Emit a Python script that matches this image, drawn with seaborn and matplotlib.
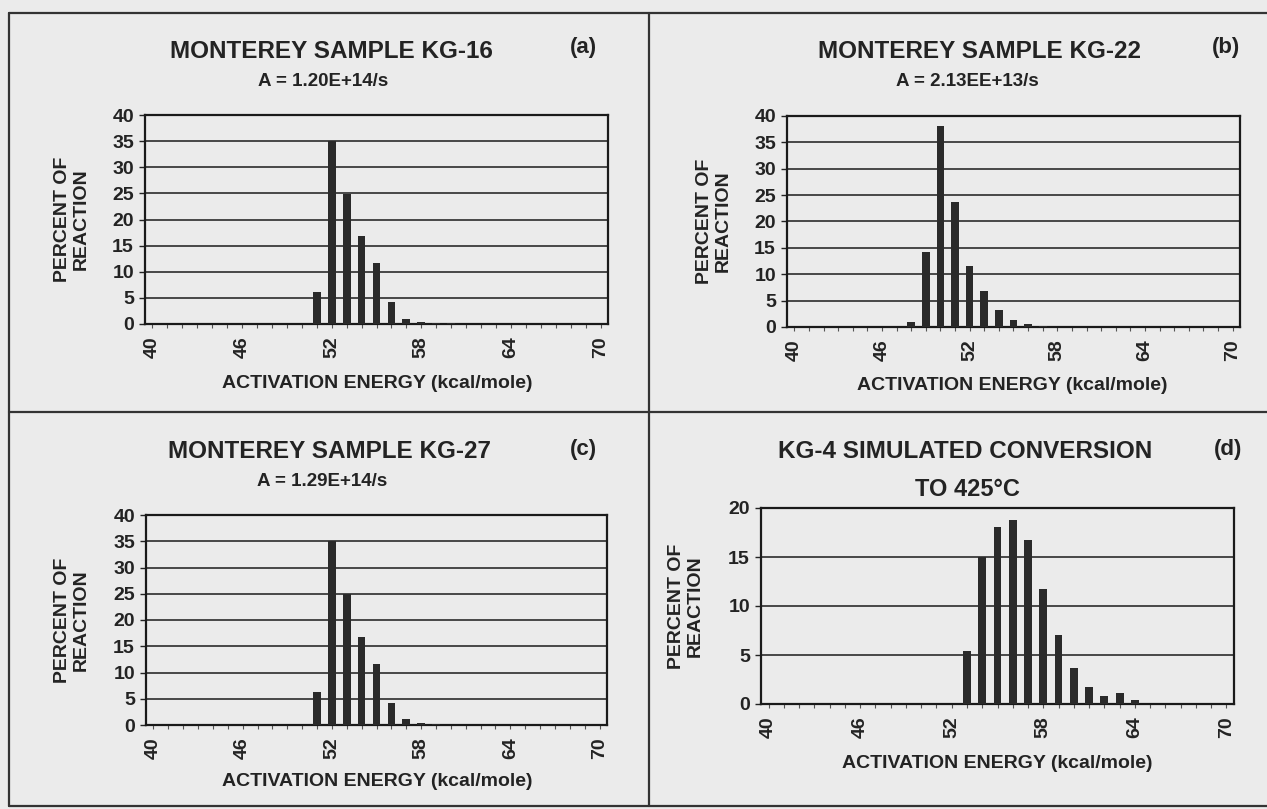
import matplotlib
matplotlib.use("Agg")
import matplotlib.pyplot as plt
from matplotlib.lines import Line2D
import seaborn as sns
import pandas as pd

# ---------------- data ----------------
energies = list(range(40, 71))  # kcal/mole categories
tick_labels = ["40", "46", "52", "58", "64", "70"]

kg16 = [0, 0, 0, 0, 0, 0, 0, 0, 0, 0, 0,
        6.1, 35.0, 24.8, 16.9, 11.7, 4.2, 1.0, 0.3, 0.2, 0.1,
        0, 0, 0, 0, 0, 0, 0, 0, 0, 0]
kg22 = [0, 0, 0, 0, 0, 0, 0, 0,
        0.9, 14.3, 38.1, 23.7, 11.6, 6.8, 3.2, 1.3, 0.6, 0.2,
        0, 0, 0, 0, 0, 0, 0, 0, 0, 0, 0, 0, 0]
kg27 = [0, 0, 0, 0, 0, 0, 0, 0, 0, 0, 0,
        6.2, 35.0, 24.9, 16.8, 11.6, 4.1, 1.1, 0.3, 0.1,
        0, 0, 0, 0, 0, 0, 0, 0, 0, 0, 0]
kg4 = [0, 0, 0, 0, 0, 0, 0, 0, 0, 0, 0, 0, 0,
       5.4, 15.0, 18.1, 18.8, 16.7, 11.7, 7.0, 3.7, 1.7, 0.85, 1.1, 0.45,
       0, 0, 0, 0, 0, 0]

titles = ["MONTEREY SAMPLE KG-16", "MONTEREY SAMPLE KG-22",
          "MONTEREY SAMPLE KG-27", "KG-4 SIMULATED CONVERSION"]
subtitles = ["A = 1.20E+14/s", "A = 2.13EE+13/s", "A = 1.29E+14/s", "TO 425°C"]
letters = ["(a)", "(b)", "(c)", "(d)"]
ymaxes = [40, 40, 40, 20]
series = [kg16, kg22, kg27, kg4]

# ---------------- style ----------------
sns.set_theme(style="white")
plt.rcParams["font.family"] = ["Liberation Sans", "DejaVu Sans"]
plt.rcParams["font.weight"] = "bold"
BG = "#ebebeb"
INK = "#232323"

W, H = 1267, 809
fig = plt.figure(figsize=(W / 100, H / 100), dpi=100, facecolor=BG)

def fx(x):
    return x / W

def fy(y):
    return 1 - y / H

# axes boxes in pixels: left, top, right, bottom
boxes = [(145, 115, 608, 324), (787, 116, 1240, 327),
         (146, 515, 607, 725), (761, 508, 1234, 704)]
title_pos = [(331, 51), (980, 51), (330, 452), (965, 452)]
sub_pos = [(323, 82), (967, 82), (322, 482), (967, 490)]
letter_pos = [(583, 48), (1226, 48), (583, 450), (1228, 450)]
ylabel_pos = [(72, 219), (714, 221), (72, 620), (686, 606)]
xlabel_pos = [(377, 383), (1012, 385), (377, 782), (997, 763)]

for i in range(4):
    l, t, r, b = boxes[i]
    ax = fig.add_axes([fx(l), fy(b), fx(r - l), (b - t) / H])
    ax.set_facecolor(BG)
    df = pd.DataFrame({"energy": [str(e) for e in energies], "pct": series[i]})
    sns.barplot(data=df, x="energy", y="pct", ax=ax, color="#2a2a2a",
                saturation=1, width=0.52, zorder=3, edgecolor="none")
    ax.set_xlim(-0.5, len(energies) - 0.5)
    ax.set_ylim(0, ymaxes[i])
    ax.set_yticks(range(0, ymaxes[i] + 1, 5))
    ax.yaxis.grid(True, color="#3a3a3a", linewidth=1.3, zorder=0)
    ax.xaxis.grid(False)
    ax.set_xticks([energies.index(int(v)) for v in tick_labels])
    ax.set_xticklabels(tick_labels, rotation=90, fontsize=14,
                       fontweight="bold", color=INK)
    ax.set_xticks(range(len(energies)), minor=True)
    ax.tick_params(axis="x", which="both", length=3, width=0.8,
                   color="#555555", direction="out", pad=6, bottom=True)
    ax.tick_params(axis="y", length=4, width=1.0, color=INK,
                   direction="out", pad=4, left=True, labelsize=14,
                   labelcolor=INK)
    for lab in ax.get_yticklabels():
        lab.set_fontweight("bold")
    for sp in ax.spines.values():
        sp.set_visible(True)
        sp.set_color("#1a1a1a")
        sp.set_linewidth(1.6)
    ax.set_xlabel("")
    ax.set_ylabel("")

    fig.text(fx(title_pos[i][0]), fy(title_pos[i][1]), titles[i],
             ha="center", va="center", fontsize=17.5, fontweight="bold",
             color=INK)
    fig.text(fx(sub_pos[i][0]), fy(sub_pos[i][1]), subtitles[i],
             ha="center", va="center", fontsize=13.5 if i < 3 else 17,
             fontweight="bold", color=INK)
    fig.text(fx(letter_pos[i][0]), fy(letter_pos[i][1]), letters[i],
             ha="center", va="center", fontsize=16, fontweight="bold",
             color=INK)
    fig.text(fx(ylabel_pos[i][0]), fy(ylabel_pos[i][1]),
             "PERCENT OF\nREACTION", rotation=90, ha="center", va="center",
             fontsize=14, fontweight="bold", color=INK, linespacing=1.15)
    fig.text(fx(xlabel_pos[i][0]), fy(xlabel_pos[i][1]),
             "ACTIVATION ENERGY (kcal/mole)", ha="center", va="center",
             fontsize=14, fontweight="bold", color=INK)

# panel frame (no right edge visible in the reference)
frame_kw = dict(color="#333333", linewidth=1.6, transform=fig.transFigure)
L, T, R, B = 9, 13, 1267, 806
for (x0, y0, x1, y1) in [(L, T, R, T), (L, B, R, B), (L, T, L, B),
                         (649, T, 649, B), (L, 412, R, 412)]:
    fig.add_artist(Line2D([fx(x0), fx(x1)], [fy(y0), fy(y1)], **frame_kw))

fig.savefig("out.png", dpi=100, facecolor=BG)
